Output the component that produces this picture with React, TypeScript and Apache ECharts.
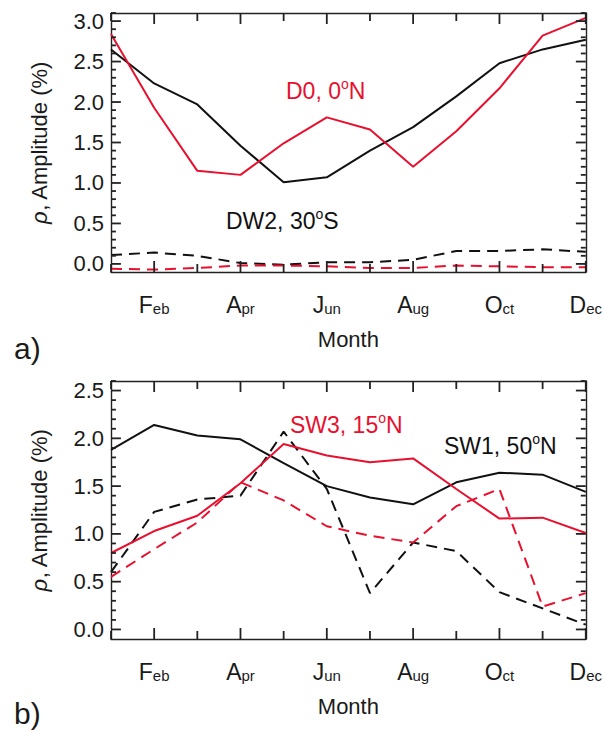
import React, { useEffect, useRef } from 'react';
import * as echarts from 'echarts';

const months = ['Jan', 'Feb', 'Mar', 'Apr', 'May', 'Jun', 'Jul', 'Aug', 'Sep', 'Oct', 'Nov', 'Dec'];
const monthIndex = [1, 2, 3, 4, 5, 6, 7, 8, 9, 10, 11, 12];
const labeledMonths = [2, 4, 6, 8, 10, 12];

// Panel a
const dw2Solid = [2.65, 2.23, 1.97, 1.46, 1.01, 1.07, 1.40, 1.69, 2.07, 2.48, 2.65, 2.77];
const d0Solid = [2.84, 1.93, 1.15, 1.10, 1.49, 1.81, 1.66, 1.20, 1.64, 2.17, 2.82, 3.04];
const dw2Dash = [0.11, 0.14, 0.10, 0.01, -0.01, 0.02, 0.02, 0.05, 0.16, 0.16, 0.18, 0.15];
const d0Dash = [-0.06, -0.07, -0.05, -0.02, -0.02, -0.03, -0.05, -0.05, -0.02, -0.03, -0.04, -0.04];

// Panel b
const sw1Solid = [1.88, 2.14, 2.03, 1.99, 1.74, 1.50, 1.38, 1.31, 1.54, 1.64, 1.62, 1.44];
const sw3Solid = [0.80, 1.03, 1.19, 1.53, 1.94, 1.82, 1.75, 1.79, 1.47, 1.16, 1.17, 1.01];
const sw1Dash = [0.60, 1.23, 1.36, 1.40, 2.07, 1.47, 0.38, 0.91, 0.82, 0.39, 0.22, 0.05];
const sw3Dash = [0.55, 0.84, 1.12, 1.54, 1.35, 1.08, 0.98, 0.91, 1.29, 1.47, 0.24, 0.38];

const yTicksA = [0, 0.5, 1.0, 1.5, 2.0, 2.5, 3.0];
const yTicksB = [0, 0.5, 1.0, 1.5, 2.0, 2.5];
const yMinorA = [0.1, 0.2, 0.3, 0.4, 0.6, 0.7, 0.8, 0.9, 1.1, 1.2, 1.3, 1.4, 1.6, 1.7, 1.8, 1.9, 2.1, 2.2, 2.3, 2.4, 2.6, 2.7, 2.8, 2.9, 3.1];
const yMinorB = [0.1, 0.2, 0.3, 0.4, 0.6, 0.7, 0.8, 0.9, 1.1, 1.2, 1.3, 1.4, 1.6, 1.7, 1.8, 1.9, 2.1, 2.2, 2.3, 2.4, 2.6];
const yRangeA = [-0.1, 3.1];
const yRangeB = [-0.1, 2.6];

const FONT = '"Liberation Sans", Arial, Helvetica, sans-serif';
const RED = '#e8102e';
const BLACK = '#111111';
const AXIS = '#222222';
const TEXT = '#1a1a1a';

function pairs(vals: number[]) {
  return monthIndex.map((m, i) => [m, vals[i]]);
}

export default function App() {
  const ref = useRef<HTMLDivElement>(null);
  useEffect(() => {
    document.body.style.margin = '0';
    const chart = echarts.init(ref.current!, null, { renderer: 'svg' });
    const grids = [
      { left: 111, top: 13, width: 480, height: 259 },
      { left: 111, top: 381, width: 480, height: 258 },
    ];
    const ranges = [yRangeA, yRangeB];
    const ticks = [yTicksA, yTicksB];
    const minors = [yMinorA, yMinorB];
    const xAxis: any[] = [];
    const yAxis: any[] = [];
    const mkLine = () => ({ show: true, onZero: false, lineStyle: { color: AXIS, width: 1.4 } });
    grids.forEach((g, gi) => {
      xAxis.push({
        gridIndex: gi, type: 'value', min: 1, max: 12, interval: 1, position: 'bottom',
        name: 'Month', nameLocation: 'middle', nameGap: 56,
        nameTextStyle: { fontFamily: FONT, fontSize: 22, color: TEXT },
        axisLine: mkLine(), splitLine: { show: false }, axisTick: { show: false },
        axisLabel: {
          margin: 21, color: TEXT, fontFamily: FONT, showMinLabel: true, showMaxLabel: true,
          formatter: (v: number) => {
            const m = Math.round(v);
            if (!labeledMonths.includes(m)) return '';
            const name = months[m - 1];
            return `{m|${name[0]}}{s|${name.slice(1)}}`;
          },
          rich: {
            m: { fontSize: 23, lineHeight: 23, padding: [0, 0, 7, 0], verticalAlign: 'top', fontFamily: FONT, color: TEXT },
            s: { fontSize: 15, lineHeight: 15, verticalAlign: 'bottom', fontFamily: FONT, color: TEXT },
          },
        },
      });
      xAxis.push({
        gridIndex: gi, type: 'value', min: 1, max: 12, interval: 1, position: 'top',
        axisLine: mkLine(), splitLine: { show: false }, axisLabel: { show: false }, axisTick: { show: false },
      });
      const [mn, mx] = ranges[gi];
      yAxis.push({
        gridIndex: gi, type: 'value', min: mn, max: mx, position: 'left',
        axisLine: mkLine(), splitLine: { show: false }, axisTick: { show: false },
        axisLabel: { customValues: ticks[gi], formatter: (v: number) => v.toFixed(1), fontSize: 22, fontFamily: FONT, color: TEXT, margin: 7 },
        name: '{i|ρ}, Amplitude (%)', nameLocation: 'middle', nameGap: 61, nameRotate: 90,
        nameTextStyle: { fontFamily: FONT, fontSize: 22, color: TEXT, rich: { i: { fontStyle: 'italic', fontFamily: FONT, fontSize: 22, color: TEXT } } },
      });
      yAxis.push({
        gridIndex: gi, type: 'value', min: mn, max: mx, position: 'right',
        axisLine: mkLine(), splitLine: { show: false }, axisTick: { show: false }, axisLabel: { show: false },
      });
    });

    const mk = (data: number[], color: string, dashed: boolean, gi: number) => ({
      type: 'line', xAxisIndex: gi * 2, yAxisIndex: gi * 2, data: pairs(data),
      symbol: 'none', showSymbol: false, silent: true,
      lineStyle: { color, width: 2, type: dashed ? [11, 7] : 'solid' },
    });

    // Tick marks: one short line series per tick, placed through the axes' own scales
    const tickList: any[] = [];
    const tick = (gi: number, p1: number[], p2: number[]) => {
      tickList.push({
        type: 'line', xAxisIndex: gi * 2, yAxisIndex: gi * 2, data: [p1, p2],
        symbol: 'none', showSymbol: false, silent: true, clip: false, z: 6,
        lineStyle: { color: AXIS, width: 1.8, cap: 'butt' },
      });
    };
    [0, 1].forEach((gi) => {
      const g = grids[gi];
      const [mn, mx] = ranges[gi];
      const yPerPx = (mx - mn) / g.height;
      const xPerPx = 11 / g.width;
      monthIndex.forEach((m) => {
        const len = (labeledMonths.includes(m) ? 11 : 8) * yPerPx;
        tick(gi, [m, mn], [m, mn + len]);
        tick(gi, [m, mx], [m, mx - len]);
      });
      const addY = (v: number, px: number) => {
        tick(gi, [1, v], [1 + px * xPerPx, v]);
        tick(gi, [12 - px * xPerPx, v], [12, v]);
      };
      ticks[gi].forEach((v) => addY(v, 10));
      minors[gi].forEach((v) => addY(v, 5));
    });

    const ann = (text: string, x: number, y: number, color: string) => ({
      type: 'text', x, y, silent: true,
      style: {
        text, fill: color, font: `23px ${FONT}`, verticalAlign: 'middle', align: 'left',
        rich: {
          t: { fontSize: 23, fontFamily: FONT, fill: color },
          u: { fontSize: 14, padding: [0, 0, 14, 0], fontFamily: FONT, fill: color },
        },
      },
    });

    chart.setOption({
      animation: false,
      backgroundColor: '#ffffff',
      grid: grids,
      xAxis,
      yAxis,
      series: [
        ...tickList,
        mk(dw2Dash, BLACK, true, 0),
        mk(d0Dash, RED, true, 0),
        mk(dw2Solid, BLACK, false, 0),
        mk(d0Solid, RED, false, 0),
        mk(sw1Dash, BLACK, true, 1),
        mk(sw3Dash, RED, true, 1),
        mk(sw1Solid, BLACK, false, 1),
        mk(sw3Solid, RED, false, 1),
      ],
      graphic: [
        ann('{t|D0, 0}{u|o}{t|N}', 286, 91, RED),
        ann('{t|DW2, 30}{u|o}{t|S}', 226, 221, BLACK),
        ann('{t|SW3, 15}{u|o}{t|N}', 290, 425, RED),
        ann('{t|SW1, 50}{u|o}{t|N}', 444, 446, BLACK),
        { type: 'text', x: 14, y: 348, silent: true, style: { text: 'a)', fill: TEXT, font: `30px ${FONT}`, verticalAlign: 'middle' } },
        { type: 'text', x: 14, y: 713, silent: true, style: { text: 'b)', fill: TEXT, font: `30px ${FONT}`, verticalAlign: 'middle' } },
      ],
    });
    return () => chart.dispose();
  }, []);
  return <div ref={ref} style={{ width: 605, height: 732 }} />;
}
